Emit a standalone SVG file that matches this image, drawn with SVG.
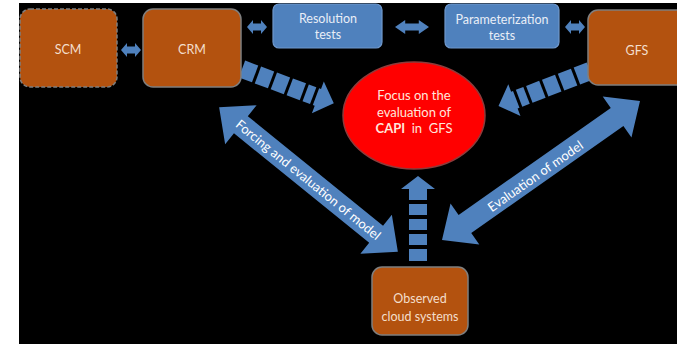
<svg xmlns="http://www.w3.org/2000/svg" width="677" height="344" viewBox="0 0 677 344">
  <defs>
    <style>
      .brown { fill: #b3520f; stroke: #7f7f7f; stroke-width: 1.5; }
      .blue { fill: #4f81bd; stroke: #6f98cc; stroke-width: 1.2; }
      .conn { fill: #4f81bd; }
      .lbl { font-family: Lato, "Liberation Sans", sans-serif; font-size: 12.5px; text-anchor: middle; dominant-baseline: central; }
      .onbrown { fill: #f3dfcc; }
      .onblue { fill: #e9eef7; }
      .onred { fill: #ffe6dc; font-size: 13px; }
      .onarrow { fill: #ffffff; font-size: 13px; }
    </style>
    <!-- small two-headed arrow, centred on the origin, 20 wide -->
    <polygon id="dbl" points="-10,0 -4,-7 -4,-3.5 4,-3.5 4,-7 10,0 4,7 4,3.5 -4,3.5 -4,7"/>
    <!-- dashed block arrow running along +x, tip at x=98 -->
    <g id="blocks">
      <rect x="0" y="-9" width="14" height="18"/>
      <rect x="17" y="-9" width="14" height="18"/>
      <rect x="34" y="-9" width="14" height="18"/>
      <rect x="51" y="-9" width="14" height="18"/>
      <rect x="68" y="-9" width="8" height="18"/>
      <polygon points="79,-9 81,-9 81,-17 98,0 81,17 81,9 79,9"/>
    </g>
  </defs>

  <rect x="0" y="0" width="677" height="344" fill="#ffffff"/>
  <rect x="19" y="3" width="658" height="341" fill="#000000"/>

  <!-- connectors -->
  <g id="connectors" class="conn">
    <use href="#dbl" transform="translate(131,50)"/>
    <use href="#dbl" transform="translate(257,27)"/>
    <use href="#dbl" transform="translate(412,27) scale(1.7,1)"/>
    <use href="#dbl" transform="translate(575,27)"/>

    <use href="#blocks" transform="translate(242,69) rotate(20.5)"/>
    <use href="#blocks" transform="translate(590,71) rotate(159)"/>

    <!-- vertical dashed arrow from the observations up to the focus -->
    <g id="obs-up">
      <rect x="409" y="249" width="18" height="12"/>
      <rect x="409" y="234" width="18" height="11"/>
      <rect x="409" y="219" width="18" height="11"/>
      <rect x="409" y="204" width="18" height="11"/>
      <polygon points="409,200 409,189 401,189 418,176 435,189 427,189 427,200"/>
    </g>

    <!-- large two-headed arrows -->
    <g id="forcing-arrow" transform="translate(308.5,179.5) rotate(39)">
      <polygon points="-115,0 -87,-25 -87,-11 87,-11 87,-25 115,0 87,25 87,11 -87,11 -87,25"/>
      <text class="lbl onarrow" x="0" y="0" textLength="182" lengthAdjust="spacingAndGlyphs">Forcing and evaluation of model</text>
    </g>
    <g id="evaluation-arrow" transform="translate(541,170.5) rotate(-35.1)">
      <polygon points="-121,0 -93,-25 -93,-11 93,-11 93,-25 121,0 93,25 93,11 -93,11 -93,25"/>
      <text class="lbl onarrow" x="-8" y="1">Evaluation of model</text>
    </g>
  </g>

  <g id="scm">
    <rect class="brown" x="20" y="9" width="97" height="78" rx="10" stroke-dasharray="4 2"/>
    <text class="lbl onbrown" x="68" y="49">SCM</text>
  </g>
  <g id="crm">
    <rect class="brown" x="143" y="9" width="98" height="78" rx="10"/>
    <text class="lbl onbrown" x="192" y="49">CRM</text>
  </g>
  <g id="resolution">
    <rect class="blue" x="273" y="4" width="109" height="44" rx="6"/>
    <text class="lbl onblue" x="328" y="18">Resolution</text>
    <text class="lbl onblue" x="328" y="34">tests</text>
  </g>
  <g id="parameterization">
    <rect class="blue" x="445" y="4" width="114" height="44" rx="6"/>
    <text class="lbl onblue" x="502" y="19">Parameterization</text>
    <text class="lbl onblue" x="502" y="35">tests</text>
  </g>
  <g id="gfs">
    <rect class="brown" x="588" y="10" width="100" height="75" rx="10"/>
    <text class="lbl onbrown" x="637" y="50">GFS</text>
  </g>
  <g id="focus">
    <ellipse cx="414" cy="115.5" rx="71" ry="53.5" fill="#ff0000" stroke="#8e3b3b" stroke-width="1.5"/>
    <text class="lbl onred" x="414" y="95">Focus on the</text>
    <text class="lbl onred" x="414" y="112">evaluation of</text>
    <text class="lbl onred" x="414" y="128"><tspan font-weight="bold">CAPI</tspan>&#160; in &#160;GFS</text>
  </g>
  <g id="observed">
    <rect class="brown" x="372" y="267" width="96" height="68" rx="10"/>
    <text class="lbl onbrown" x="420" y="298">Observed</text>
    <text class="lbl onbrown" x="420" y="316">cloud systems</text>
  </g>
</svg>
